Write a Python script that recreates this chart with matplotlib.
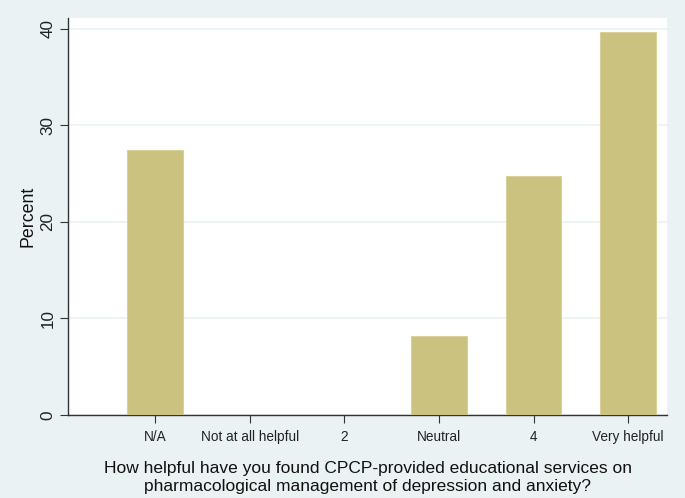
import matplotlib
matplotlib.use('Agg')
from matplotlib import pyplot as plt
import numpy as np

# Données
categories = ['N/A', 'Not at all helpful', '2', 'Neutral', '4', 'Very helpful']
percent = [27.4, 0.0, 0.0, 8.2, 24.7, 39.7]

BG = '#EAF2F3'
BAR = '#CAC27E'

plt.rcParams['font.family'] = ['Liberation Sans', 'DejaVu Sans']

fig = plt.figure(figsize=(6.85, 4.98), dpi=100, facecolor=BG)
ax = fig.add_axes([68 / 685, 1 - 415 / 498, (667 - 68) / 685, (415 - 18) / 498])
ax.set_facecolor('white')

x = np.arange(len(categories))
ax.bar(x, percent, width=0.59, color=BAR, edgecolor='#D8D29A', linewidth=0.8, zorder=3)

ax.set_xlim(-0.92, 5.41)
ax.set_ylim(0, 41.1)
ax.set_yticks([0, 10, 20, 30, 40])
ax.set_xticks(x)
ax.set_xticklabels(categories, fontsize=9.8, color='#222222')
for lab in ax.get_yticklabels():
    lab.set_rotation(90)
    lab.set_va('center')
    lab.set_color('#222222')
ax.tick_params(axis='y', labelsize=12.3, length=6, color='#333333', pad=3)
ax.tick_params(axis='x', length=6, color='#333333', pad=5)

ax.grid(axis='y', color=BG, linewidth=1.2, zorder=0)
for side in ['top', 'right']:
    ax.spines[side].set_visible(False)
for side in ['left', 'bottom']:
    ax.spines[side].set_color('#333333')
    ax.spines[side].set_linewidth(1.0)

ax.set_ylabel('Percent', fontsize=12.8, labelpad=3, color='#111111')
ax.set_xlabel('How helpful have you found CPCP-provided educational services on\n'
              'pharmacological management of depression and anxiety?',
              fontsize=12.5, labelpad=12, linespacing=1.25, color='#111111')

plt.savefig('out.png', dpi=100, facecolor=BG)
plt.close()
